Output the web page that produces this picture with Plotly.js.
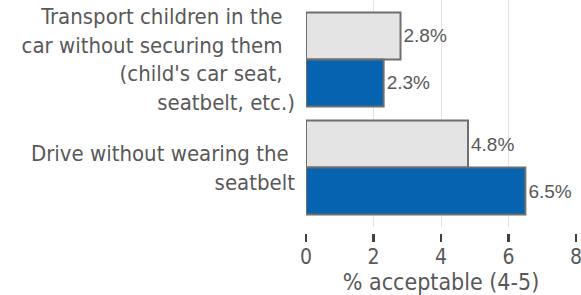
<!DOCTYPE html>
<html>
<head>
<meta charset="utf-8">
<script src="https://cdn.plot.ly/plotly-3.0.1.min.js"></script>
<style>html,body{margin:0;padding:0;background:#fff;}#chart{width:581px;height:295px;}</style>
</head>
<body>
<div id="chart"></div>
<script>
const categories = ["Transport children in the car without securing them (child's car seat, seatbelt, etc.)", "Drive without wearing the seatbelt"];
const tickLabels = ["Transport children in the\u00a0\u00a0<br>car without securing them\u00a0\u00a0<br>(child's car seat,\u00a0\u00a0<br>seatbelt, etc.)", "Drive without wearing the\u00a0<br>seatbelt"];
const greyValues = [2.8, 4.8];
const blueValues = [2.3, 6.5];
const xTicks = [0, 2, 4, 6, 8];
const xTitle = '\u00a0\u00a0% acceptable (4-5)';

const textColor = '#595959';
const catFont = "'DejaVu Sans Condensed', 'DejaVu Sans', sans-serif";

const traces = [
  {
    type: 'bar', orientation: 'h', y: categories, x: greyValues,
    marker: {color: '#e4e4e4', line: {color: '#6f6f6f', width: 2}},
    text: greyValues.map(v => v.toFixed(1) + '%'), textposition: 'outside',
    textfont: {family: "'Liberation Sans', Arial, sans-serif", size: 19, color: textColor},
    cliponaxis: false, hoverinfo: 'none', showlegend: false
  },
  {
    type: 'bar', orientation: 'h', y: categories, x: blueValues,
    marker: {color: '#0563af', line: {color: '#6f6f6f', width: 2}},
    text: blueValues.map(v => v.toFixed(1) + '%'), textposition: 'outside',
    textfont: {family: "'Liberation Sans', Arial, sans-serif", size: 19, color: textColor},
    cliponaxis: false, hoverinfo: 'none', showlegend: false
  },
  {
    type: 'scatter', mode: 'markers', x: [], y: [], xaxis: 'x2', yaxis: 'y',
    hoverinfo: 'none', showlegend: false
  }
];

const layout = {
  width: 581, height: 295,
  margin: {l: 306, r: 5, t: 0, b: 62},
  paper_bgcolor: '#fff', plot_bgcolor: '#fff',
  barmode: 'group', bargap: 0.13, bargroupgap: 0,
  font: {family: catFont, color: textColor},
  yaxis: {
    type: 'category', range: [1.55, -0.55], domain: [0.0258, 1],
    tickmode: 'array', tickvals: categories, ticktext: tickLabels,
    tickfont: {family: catFont, size: 22, color: textColor},
    showgrid: false, zeroline: false, showline: false, ticks: '', ticklabelstandoff: 10
  },
  xaxis: {
    range: [0, 8], tickvals: xTicks, showticklabels: false, ticks: '',
    showgrid: true, gridcolor: '#e2e2e2', gridwidth: 1, zeroline: false, showline: false
  },
  xaxis2: {
    overlaying: 'x', anchor: 'free', position: 0, side: 'bottom',
    range: [0, 8], tickvals: xTicks,
    ticks: 'outside', ticklen: 8, tickwidth: 2.5, tickcolor: '#404040',
    tickfont: {family: catFont, size: 21, color: textColor},
    ticklabeloverflow: 'allow', ticklabelstandoff: -3,
    showgrid: false, zeroline: false, showline: false,
    title: {text: xTitle, font: {family: catFont, size: 23, color: textColor}, standoff: 4}
  }
};

Plotly.newPlot('chart', traces, layout, {staticPlot: true, displayModeBar: false});
</script>
</body>
</html>
